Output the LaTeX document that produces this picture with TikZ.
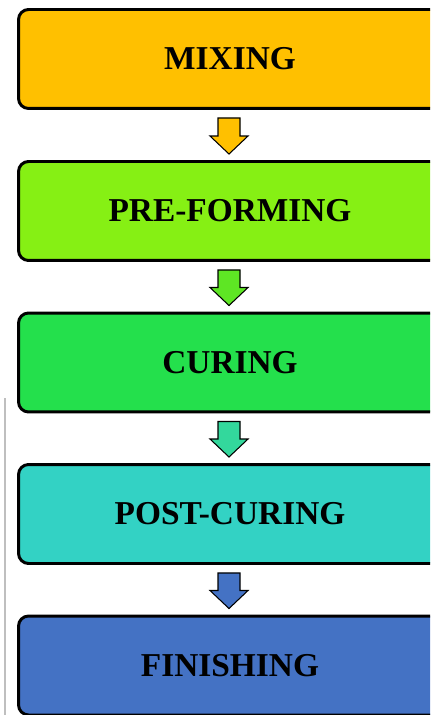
\documentclass[tikz,border=0pt]{standalone}
\usepackage{fontspec}
\setmainfont{Liberation Serif}
\usetikzlibrary{calc}

\definecolor{mixcol}{HTML}{FFC000}
\definecolor{precol}{HTML}{86F014}
\definecolor{curcol}{HTML}{24E04C}
\definecolor{postcol}{HTML}{33D2C4}
\definecolor{fincol}{HTML}{4472C4}
\definecolor{arrtwo}{HTML}{5EE624}
\definecolor{arrthree}{HTML}{33D89C}

\begin{document}
\begin{tikzpicture}[x=0.02cm,y=-0.02cm]

        \useasboundingbox (0,0) rectangle (430,715);
        \clip (0,0) rectangle (430,715);

        \draw[black!25, line width=1.1pt] (5,398) -- (5,715);

        \begin{scope}[every node/.style={rectangle, draw, rounded corners=0.2cm, line width=1.7pt,
            minimum width=8.46cm, minimum height=1.98cm, font=\fontsize{19}{22}\selectfont\bfseries}]
          \node[fill=mixcol]  (1) at (230,59)    {MIXING};
          \node[fill=precol]  (2) at (230,211)   {PRE-FORMING};
          \node[fill=curcol]  (3) at (230,362.5) {CURING};
          \node[fill=postcol] (4) at (230,514)   {POST-CURING};
          \node[fill=fincol]  (5) at (230,665.5) {FINISHING};
        \end{scope}

        \begin{scope}[every path/.style={draw=black, line width=0.6pt, line join=miter}]
          \path[fill=mixcol] ($(1.south)+(-12,8)$) -- ($(1.south)+(10,8)$) -- ($(2.north)+(10,-24)$)
            -- ($(2.north)+(18,-24)$) -- ($(2.north)+(-1,-6)$) -- ($(2.north)+(-20,-24)$)
            -- ($(2.north)+(-12,-24)$) -- cycle;
          \path[fill=arrtwo] ($(2.south)+(-12,8)$) -- ($(2.south)+(10,8)$) -- ($(3.north)+(10,-24)$)
            -- ($(3.north)+(18,-24)$) -- ($(3.north)+(-1,-6)$) -- ($(3.north)+(-20,-24)$)
            -- ($(3.north)+(-12,-24)$) -- cycle;
          \path[fill=arrthree] ($(3.south)+(-12,8)$) -- ($(3.south)+(10,8)$) -- ($(4.north)+(10,-24)$)
            -- ($(4.north)+(18,-24)$) -- ($(4.north)+(-1,-6)$) -- ($(4.north)+(-20,-24)$)
            -- ($(4.north)+(-12,-24)$) -- cycle;
          \path[fill=fincol] ($(4.south)+(-12,8)$) -- ($(4.south)+(10,8)$) -- ($(5.north)+(10,-24)$)
            -- ($(5.north)+(18,-24)$) -- ($(5.north)+(-1,-6)$) -- ($(5.north)+(-20,-24)$)
            -- ($(5.north)+(-12,-24)$) -- cycle;
        \end{scope}

      \end{tikzpicture}
\end{document}
